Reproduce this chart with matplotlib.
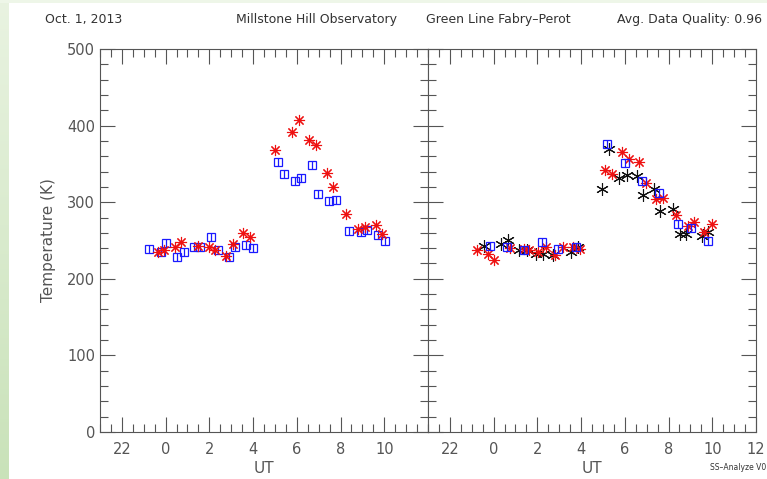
import numpy as np
import matplotlib
matplotlib.use("Agg")
import matplotlib.pyplot as plt
from matplotlib.ticker import MultipleLocator, FixedLocator, FixedFormatter

# UT hours (22 UT plotted as -2) and temperatures in K
left_blue_t = [-0.75, -0.22, 0.03, 0.53, 0.85, 1.30, 1.59, 2.09, 2.41, 2.91, 3.19, 3.66, 3.98,
               5.14, 5.41, 5.90, 6.21, 6.71, 6.98, 7.47, 7.79, 8.39, 8.95, 9.22, 9.70, 10.02]
left_blue_T = [239, 235, 247, 228, 235, 242, 241, 255, 237, 228, 241, 244, 240,
               353, 337, 328, 332, 348, 311, 301, 303, 262, 261, 264, 257, 250]
left_red_t = [-0.36, -0.07, 0.43, 0.70, 1.50, 1.98, 2.27, 2.76, 3.07, 3.55, 3.86,
              5.00, 5.79, 6.08, 6.57, 6.89, 7.38, 7.67, 8.23, 8.78, 9.12, 9.61, 9.89]
left_red_T = [235, 237, 242, 248, 243, 242, 237, 230, 245, 260, 255,
              368, 391, 407, 381, 375, 338, 320, 285, 265, 267, 270, 258]

right_blue_t = [-0.15, 0.63, 1.40, 2.20, 2.96, 3.77, 5.20, 5.99, 6.77, 7.58, 8.43, 9.01, 9.79]
right_blue_T = [243, 242, 238, 248, 239, 242, 376, 351, 328, 312, 272, 266, 250]
right_red_t = [-0.77, -0.27, 0.02, 0.75, 1.40, 1.60, 2.02, 2.38, 2.79, 3.16, 3.61, 3.96,
               5.08, 5.40, 5.86, 6.18, 6.66, 6.95, 7.44, 7.76, 8.34, 8.90, 9.18, 9.62, 10.00]
right_red_T = [238, 232, 225, 240, 239, 238, 235, 242, 231, 242, 242, 239,
               342, 337, 366, 356, 353, 325, 304, 306, 283, 269, 274, 261, 271]
right_black_t = [-0.43, 0.35, 0.67, 1.18, 1.51, 1.94, 2.24, 2.73, 3.52, 3.84,
                 4.94, 5.28, 5.75, 6.09, 6.54, 6.85, 7.33, 7.61, 8.22, 8.52, 8.80, 9.54, 9.82]
right_black_T = [243, 246, 251, 237, 238, 232, 232, 231, 235, 242,
                 317, 369, 331, 335, 334, 310, 317, 289, 291, 259, 259, 256, 261]

left_ticks = [-2, 0, 2, 4, 6, 8, 10]
left_labels = ["22", "0", "2", "4", "6", "8", "10"]
right_ticks = [-2, 0, 2, 4, 6, 8, 10, 12]
right_labels = ["22", "0", "2", "4", "6", "8", "10", "12"]

W, H = 767, 479
fig = plt.figure(figsize=(W / 100, H / 100), dpi=100)
fig.patch.set_facecolor("white")

# pale green slide edge
bg = fig.add_axes([0, 0, 9 / W, 1])
grad = np.linspace(0, 1, 256).reshape(-1, 1)
bg.imshow(grad, aspect="auto", cmap=matplotlib.colors.LinearSegmentedColormap.from_list(
    "g", ["#c9e2b9", "#e9f3e1"]), origin="lower")
bg.axis("off")
top = fig.add_axes([0, 1 - 3 / H, 1, 3 / H])
top.set_facecolor("#eef6e8")
top.set_xticks([]); top.set_yticks([])
for s in top.spines.values():
    s.set_visible(False)

tc = "#555555"
ax_l = fig.add_axes([100 / W, 47 / H, 328 / W, 383 / H])
ax_r = fig.add_axes([428 / W, 47 / H, 328 / W, 383 / H])


def draw_squares(ax, t, T):
    ax.plot(t, T, ls="none", marker="s", ms=5.5, mfc="none", mec="#1a1aff", mew=0.9)
    ax.plot(t, T, ls="none", marker="|", ms=5.5, mec="#1a1aff", mew=0.9)


def draw_stars(ax, t, T, color, arms, ms):
    ax.plot(t, T, ls="none", marker=(arms, 2, 0), ms=ms, mec=color, mew=0.8)


draw_squares(ax_l, left_blue_t, left_blue_T)
draw_stars(ax_l, left_red_t, left_red_T, "#ee1111", 8, 8)

draw_stars(ax_r, right_black_t, right_black_T, "#111111", 6, 9)
draw_stars(ax_r, right_red_t, right_red_T, "#ee1111", 8, 8)
draw_squares(ax_r, right_blue_t, right_blue_T)

for ax, ticks, labels in [(ax_l, left_ticks, left_labels), (ax_r, right_ticks, right_labels)]:
    ax.set_xlim(-3, 12)
    ax.set_ylim(0, 500)
    ax.xaxis.set_major_locator(FixedLocator(ticks))
    ax.xaxis.set_major_formatter(FixedFormatter(labels))
    ax.xaxis.set_minor_locator(MultipleLocator(0.5))
    ax.yaxis.set_major_locator(MultipleLocator(100))
    ax.yaxis.set_minor_locator(MultipleLocator(20))
    ax.tick_params(which="both", direction="in", top=True, right=True, color=tc,
                   width=0.8, labelcolor=tc, labelsize=10.5)
    ax.tick_params(which="major", length=11)
    ax.tick_params(which="minor", length=6)
    ax.tick_params(axis="x", pad=7)
    for s in ax.spines.values():
        s.set_color(tc)
        s.set_linewidth(0.8)
    ax.set_xlabel("UT", color=tc, fontsize=11, labelpad=3)

ax_l.set_ylabel("Temperature (K)", color=tc, fontsize=11, labelpad=8)
ax_r.tick_params(axis="y", labelleft=False)

fig.text(45 / W, 1 - 20 / H, "Oct. 1, 2013", fontsize=9, color="#333333", va="center")
fig.text(236 / W, 1 - 20 / H, "Millstone Hill Observatory", fontsize=9, color="#333333", va="center")
fig.text(426 / W, 1 - 20 / H, "Green Line Fabry\u2013Perot", fontsize=9, color="#333333", va="center")
fig.text(617 / W, 1 - 20 / H, "Avg. Data Quality: 0.96", fontsize=9, color="#333333", va="center")
fig.text(710 / W, 1 - 467 / H, "SS\u2013Analyze V0", fontsize=5.5, color="#333333", va="center")

fig.savefig("out.png", dpi=100)
